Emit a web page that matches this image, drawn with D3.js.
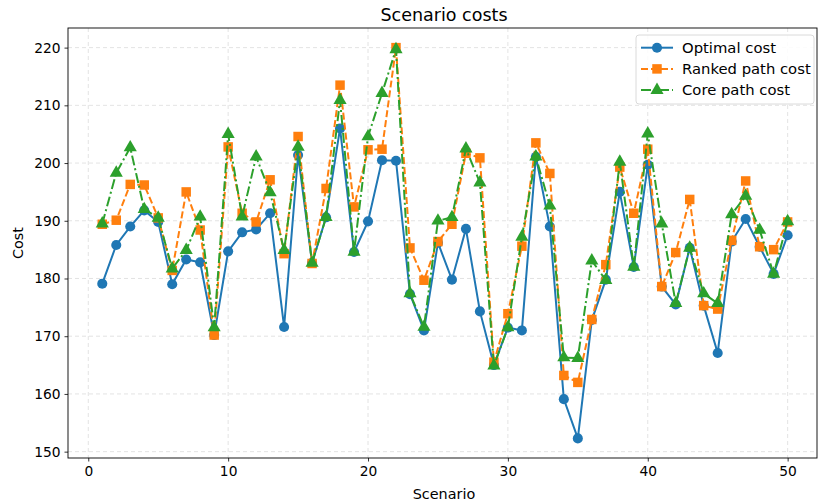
<!DOCTYPE html>
<html>
<head>
<meta charset="utf-8">
<script src="https://cdn.jsdelivr.net/npm/d3@7"></script>
<style>
  body { margin: 0; background: #fff; }
  text { font-family: "DejaVu Sans", sans-serif; fill: #000; }
</style>
</head>
<body>
<div class="content"></div>
<script>
// data
var scenarios = d3.range(1, 51);
var optimalCost = [179.1, 185.8, 189.0, 191.8, 189.8, 179.0, 183.3, 182.8, 170.2, 184.7,
                   188.0, 188.5, 191.3, 171.6, 201.4, 182.7, 190.6, 206.0, 184.6, 189.9,
                   200.5, 200.4, 177.3, 171.0, 186.2, 179.8, 188.6, 174.3, 165.0, 171.5,
                   171.0, 201.1, 189.0, 159.1, 152.3, 172.8, 179.8, 195.0, 182.0, 199.7,
                   178.6, 175.5, 185.3, 175.3, 167.1, 186.4, 190.3, 185.5, 180.8, 187.5];
var rankedCost = [189.4, 190.1, 196.3, 196.2, 190.5, 181.4, 195.0, 188.4, 170.2, 202.8,
                  191.3, 189.8, 197.1, 184.3, 204.6, 182.6, 195.6, 213.5, 192.4, 202.3,
                  202.4, 220.0, 185.3, 179.7, 186.4, 189.4, 201.7, 200.9, 165.5, 173.9,
                  185.6, 203.5, 198.2, 163.2, 162.0, 172.9, 182.4, 199.3, 191.3, 202.4,
                  178.6, 184.5, 193.7, 175.3, 174.7, 186.6, 196.9, 185.5, 185.0, 189.8];
var coreCost = [189.5, 198.3, 202.7, 192.0, 190.5, 181.7, 184.9, 190.7, 171.5, 205.0,
                190.7, 201.1, 194.9, 184.9, 202.8, 182.7, 190.6, 210.9, 184.6, 204.6,
                212.1, 219.7, 177.4, 171.6, 190.0, 190.6, 202.5, 196.6, 164.9, 171.5,
                187.2, 201.1, 192.6, 166.3, 166.2, 183.1, 179.7, 200.2, 182.0, 205.1,
                189.5, 175.7, 185.3, 177.4, 175.7, 191.1, 194.3, 188.4, 180.8, 189.9];
var seriesNames = ["Optimal cost", "Ranked path cost", "Core path cost"];
var xTicks = [0, 10, 20, 30, 40, 50];
var yTicks = [150, 160, 170, 180, 190, 200, 210, 220];

var colors = ["#1f77b4", "#ff7f0e", "#2ca02c"];
var dashes = [null, "7,3", "10,3,2,3"];
var shapes = [d3.symbolCircle, d3.symbolSquare, d3.symbolTriangle];
var sizes = [80, 90, 75];

var W = 818, H = 504;
var margin = {top: 28, right: 1, bottom: 46, left: 68},
    width = W - margin.left - margin.right,
    height = H - margin.top - margin.bottom;

var svg = d3.select(".content")
    .append("svg")
    .attr("width", W)
    .attr("height", H);

var g = svg.append("g")
    .attr("transform", "translate(" + margin.left + "," + margin.top + ")");

var x = d3.scaleLinear()
    .domain([-1.45, 52.1])
    .range([0, width]);

var y = d3.scaleLinear()
    .domain([148.9, 223.4])
    .range([height, 0]);

// grid
g.append("g").selectAll("line")
    .data(xTicks).enter().append("line")
    .attr("x1", d => x(d)).attr("x2", d => x(d))
    .attr("y1", 0).attr("y2", height)
    .attr("stroke", "#dcdcdc").attr("stroke-width", 0.8)
    .attr("stroke-dasharray", "4,3");
g.append("g").selectAll("line")
    .data(yTicks).enter().append("line")
    .attr("y1", d => y(d)).attr("y2", d => y(d))
    .attr("x1", 0).attr("x2", width)
    .attr("stroke", "#dcdcdc").attr("stroke-width", 0.8)
    .attr("stroke-dasharray", "4,3");

// axes
var xAxis = g.append("g")
    .attr("transform", "translate(0," + height + ")")
    .call(d3.axisBottom(x).tickValues(xTicks).tickSize(3.5).tickPadding(5).tickSizeOuter(0));
var yAxis = g.append("g")
    .call(d3.axisLeft(y).tickValues(yTicks).tickSize(3.5).tickPadding(4).tickSizeOuter(0));
[xAxis, yAxis].forEach(function(a) {
    a.select(".domain").remove();
    a.selectAll("text").style("font-size", "13.8px").style("font-family", "DejaVu Sans");
    a.selectAll("line").attr("stroke-width", 0.8);
});

// frame
g.append("rect")
    .attr("width", width).attr("height", height)
    .attr("fill", "none").attr("stroke", "#000").attr("stroke-width", 0.9);

// series
var allSeries = [optimalCost, rankedCost, coreCost];
allSeries.forEach(function(vals, k) {
    var pts = scenarios.map(function(s, i) { return {x: s, y: vals[i]}; });
    g.append("path")
        .datum(pts)
        .attr("fill", "none")
        .attr("stroke", colors[k])
        .attr("stroke-width", 2)
        .attr("stroke-dasharray", dashes[k])
        .attr("d", d3.line().x(d => x(d.x)).y(d => y(d.y)));
    g.append("g").selectAll("path")
        .data(pts).enter().append("path")
        .attr("d", d3.symbol().type(shapes[k]).size(sizes[k]))
        .attr("transform", d => "translate(" + x(d.x) + "," + y(d.y) + ")")
        .attr("fill", colors[k]);
});

// title and labels
svg.append("text")
    .attr("x", 444).attr("y", 20.5)
    .attr("text-anchor", "middle")
    .style("font-size", "17.5px")
    .text("Scenario costs");
svg.append("text")
    .attr("x", 444).attr("y", 499)
    .attr("text-anchor", "middle")
    .style("font-size", "14.4px")
    .text("Scenario");
svg.append("text")
    .attr("transform", "translate(23," + (margin.top + height / 2) + ") rotate(-90)")
    .attr("text-anchor", "middle")
    .style("font-size", "14.4px")
    .text("Cost");

// legend
var lg = svg.append("g").attr("transform", "translate(636,35)");
lg.append("rect")
    .attr("width", 178).attr("height", 69).attr("rx", 3)
    .attr("fill", "#fff").attr("fill-opacity", 0.85)
    .attr("stroke", "#d0d0d0").attr("stroke-width", 0.8);
seriesNames.forEach(function(name, k) {
    var ry = 12.7 + k * 21.2;
    lg.append("line")
        .attr("x1", 5).attr("x2", 37).attr("y1", ry).attr("y2", ry)
        .attr("stroke", colors[k]).attr("stroke-width", 2)
        .attr("stroke-dasharray", dashes[k]);
    lg.append("path")
        .attr("d", d3.symbol().type(shapes[k]).size(sizes[k]))
        .attr("transform", "translate(21," + ry + ")")
        .attr("fill", colors[k]);
    lg.append("text")
        .attr("x", 46).attr("y", ry).attr("dy", "0.35em")
        .style("font-size", "14.8px")
        .text(name);
});
</script>
</body>
</html>
